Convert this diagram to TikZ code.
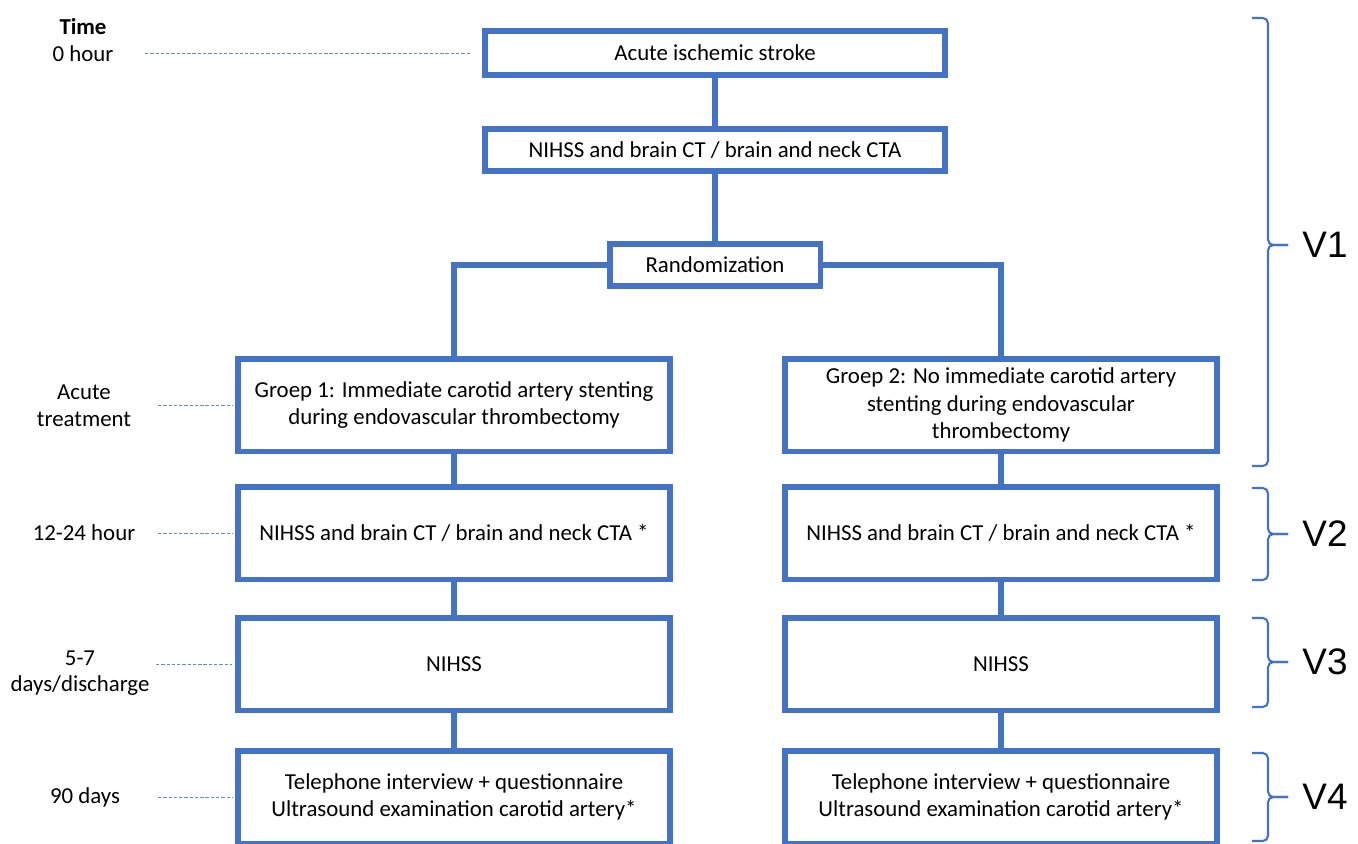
\documentclass[tikz,border=0pt]{standalone}
\usepackage{fontspec}
\setmainfont{Carlito}
\newfontfamily\visitfont{Liberation Sans}
\definecolor{boxblue}{RGB}{68,114,196}
\definecolor{dashblue}{RGB}{100,140,185}

\begin{document}
\begin{tikzpicture}[x=0.02cm, y=-0.02cm,
    stage/.style ={draw=boxblue, line width=3.4pt, fill=white, align=center,
                   inner sep=0pt, font=\fontsize{13}{15.6}\selectfont},
    armbox/.style ={stage, minimum width=8.64cm, minimum height=1.86cm},
    timelabel/.style ={align=center, font=\fontsize{13}{15.2}\selectfont},
    link/.style ={draw=boxblue, line width=3.4pt},
    timeline/.style ={draw=dashblue, line width=0.55pt, dash pattern=on 1.9pt off 1.1pt,
                      shorten >=1.7pt},
    visit/.style ={draw=boxblue, line width=1.2pt, rounded corners=3pt},
    visitlabel/.style ={font=\visitfont\fontsize{21}{25}\selectfont}]
   \useasboundingbox (0,0) rectangle (1358,843);
   % main line
   \node[stage, minimum width=9.2cm, minimum height=0.88cm] (stroke) at (715,53) {Acute ischemic stroke};
   \node[stage, minimum width=9.2cm, minimum height=0.84cm] (imaging) at (715,150) {NIHSS and brain CT / brain and neck CTA};
   \node[stage, minimum width=4.22cm, minimum height=0.84cm] (random) at (715,265) {Randomization};
   % two arms
   \node[armbox] (groep1) at (454,405) {Groep 1: Immediate carotid artery stenting\\during endovascular thrombectomy};
   \node[armbox] (groep2) at (1001,405) {Groep 2: No immediate carotid artery\\stenting during endovascular\\thrombectomy};
   \node[armbox] (ctaA) at (454,533) {NIHSS and brain CT / brain and neck CTA *};
   \node[armbox] (ctaB) at (1001,533) {NIHSS and brain CT / brain and neck CTA *};
   \node[armbox] (nihssA) at (454,664) {NIHSS};
   \node[armbox] (nihssB) at (1001,664) {NIHSS};
   \node[armbox] (followA) at (454,797) {Telephone interview + questionnaire\\Ultrasound examination carotid artery*};
   \node[armbox] (followB) at (1001,797) {Telephone interview + questionnaire\\Ultrasound examination carotid artery*};
   \draw[link] (stroke.south) -- (imaging.north);
   \draw[link] (imaging.south) -- (random.north);
   \draw[link] (random.west) -| (groep1.north);
   \draw[link] (random.east) -| (groep2.north);
   \draw[link] (groep1.south) -- (ctaA.north);
   \draw[link] (ctaA.south) -- (nihssA.north);
   \draw[link] (nihssA.south) -- (followA.north);
   \draw[link] (groep2.south) -- (ctaB.north);
   \draw[link] (ctaB.south) -- (nihssB.north);
   \draw[link] (nihssB.south) -- (followB.north);
   % time axis
   \node[timelabel] (t0) at (83,40) {\textbf{Time}\\0 hour};
   \node[timelabel] (t1) at (84,406) {Acute\\treatment};
   \node[timelabel] (t2) at (84,533) {12-24 hour};
   \node[timelabel] (t3) at (80,673) {5-7\\days/discharge};
   \node[timelabel] (t4) at (85,797) {90 days};
   \coordinate (d0) at (145,53);
   \coordinate (d1) at (158,405);
   \coordinate (d2) at (158,533);
   \coordinate (d3) at (156,664);
   \coordinate (d4) at (158,797);
   \draw[timeline, shorten >=0.24cm] (d0) -- (stroke.west);
   \draw[timeline] (d1) -- (groep1.west);
   \draw[timeline] (d2) -- (ctaA.west);
   \draw[timeline] (d3) -- (nihssA.west);
   \draw[timeline] (d4) -- (followA.west);
   % visits
   \draw[visit] (1252,18) -- (1268,18) -- (1268,245) -- (1288,245);
   \draw[visit] (1252,466) -- (1268,466) -- (1268,245) -- (1288,245);
   \draw[visit] (1252,488) -- (1268,488) -- (1268,534) -- (1288,534);
   \draw[visit] (1252,580) -- (1268,580) -- (1268,534) -- (1288,534);
   \draw[visit] (1252,618) -- (1268,618) -- (1268,662) -- (1288,662);
   \draw[visit] (1252,707) -- (1268,707) -- (1268,662) -- (1288,662);
   \draw[visit] (1252,753) -- (1268,753) -- (1268,797) -- (1288,797);
   \draw[visit] (1252,841) -- (1268,841) -- (1268,797) -- (1288,797);
   \node[visitlabel] (v1) at (1325,245) {V1};
   \node[visitlabel] (v2) at (1325,534) {V2};
   \node[visitlabel] (v3) at (1325,662) {V3};
   \node[visitlabel] (v4) at (1325,797) {V4};
\end{tikzpicture}
\end{document}
